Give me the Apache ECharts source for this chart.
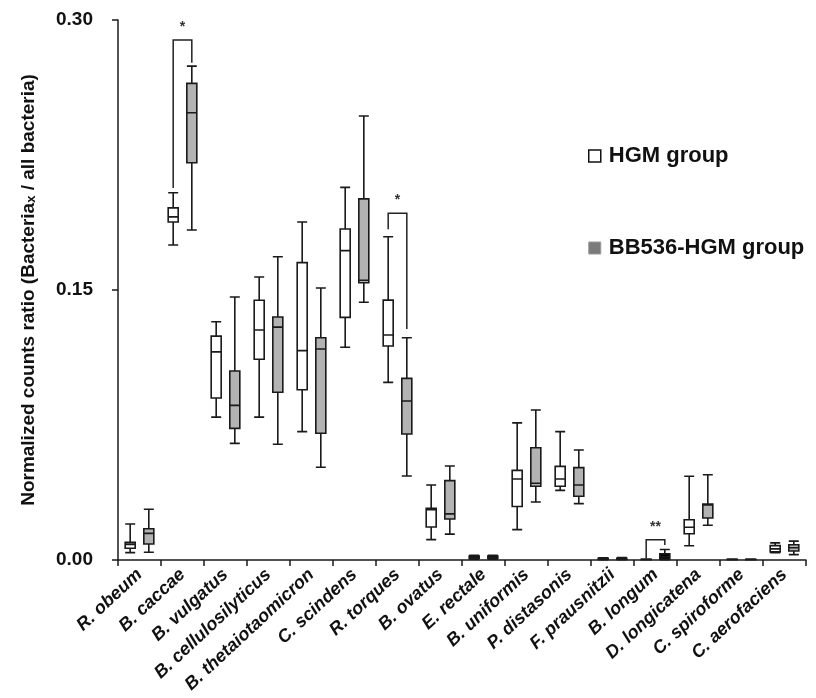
<!DOCTYPE html>
<html>
<head>
<meta charset="utf-8">
<script src="https://cdn.jsdelivr.net/npm/echarts@6/dist/echarts.min.js"></script>
<style>
  html, body { margin: 0; padding: 0; background: #fff; }
  #box-chart { width: 816px; height: 698px; }
</style>
</head>
<body>
<div id="box-chart"></div>
<script>
var categories = ['R. obeum', 'B. caccae', 'B. vulgatus', 'B. cellulosilyticus', 'B. thetaiotaomicron',
    'C. scindens', 'R. torques', 'B. ovatus', 'E. rectale', 'B. uniformis', 'P. distasonis',
    'F. prausnitzii', 'B. longum', 'D. longicatena', 'C. spiroforme', 'C. aerofaciens'];

/* [min, Q1, median, Q3, max] */
var hgmBoxes = [
    [0.0041, 0.0065, 0.0087, 0.0098, 0.0200],
    [0.1750, 0.1878, 0.1906, 0.1956, 0.2040],
    [0.0794, 0.0900, 0.1156, 0.1244, 0.1324],
    [0.0794, 0.1115, 0.1278, 0.1443, 0.1572],
    [0.0713, 0.0946, 0.1163, 0.1652, 0.1878],
    [0.1182, 0.1348, 0.1719, 0.1839, 0.2070],
    [0.0987, 0.1189, 0.1250, 0.1444, 0.1796],
    [0.0113, 0.0183, 0.0280, 0.0287, 0.0417],
    [0.0005, 0.0008, 0.0012, 0.0022, 0.0026],
    [0.0169, 0.0297, 0.0450, 0.0498, 0.0762],
    [0.0387, 0.0410, 0.0450, 0.0520, 0.0713],
    [0.0002, 0.0004, 0.0006, 0.0009, 0.0012],
    [0.0001, 0.0002, 0.0003, 0.0004, 0.0005],
    [0.0079, 0.0146, 0.0182, 0.0224, 0.0465],
    [0.0001, 0.0002, 0.0003, 0.0004, 0.0005],
    [0.0040, 0.0045, 0.0062, 0.0080, 0.0095]
];
var bbBoxes = [
    [0.0043, 0.0089, 0.0148, 0.0174, 0.0282],
    [0.1833, 0.2207, 0.2485, 0.2648, 0.2744],
    [0.0648, 0.0731, 0.0859, 0.1050, 0.1461],
    [0.0643, 0.0932, 0.1294, 0.1350, 0.1685],
    [0.0515, 0.0704, 0.1172, 0.1235, 0.1511],
    [0.1432, 0.1540, 0.1554, 0.2006, 0.2467],
    [0.0467, 0.0700, 0.0883, 0.1009, 0.1235],
    [0.0144, 0.0228, 0.0256, 0.0441, 0.0522],
    [0.0005, 0.0008, 0.0012, 0.0022, 0.0026],
    [0.0322, 0.0410, 0.0426, 0.0624, 0.0833],
    [0.0313, 0.0354, 0.0417, 0.0513, 0.0611],
    [0.0002, 0.0004, 0.0007, 0.0010, 0.0013],
    [0.0002, 0.0005, 0.0018, 0.0035, 0.0058],
    [0.0193, 0.0233, 0.0306, 0.0311, 0.0474],
    [0.0001, 0.0002, 0.0003, 0.0004, 0.0005],
    [0.0030, 0.0050, 0.0068, 0.0085, 0.0105]
];

/* significance brackets */
var bracketCats = [1, 6, 12];
var bracketLeft = [0.2067, 0.1837, 0.0009];
var bracketTop = [0.2889, 0.1926, 0.0113];
var bracketRight = [0.2763, 0.1283, 0.0083];
var bracketStars = ['*', '*', '**'];

var yTicks = [0, 0.15, 0.30];

var font = 'Liberation Sans';
var lineColor = '#1a1a1a';

function boxData(list, fill) {
    return list.map(function (b) {
        // near-zero boxes are drawn solid black in the original figure
        if (b[3] < 0.004) {
            return { value: b, itemStyle: { color: '#000' } };
        }
        return { value: b, itemStyle: { color: fill } };
    });
}

var chart = echarts.init(document.getElementById('box-chart'));

var option = {
    animation: false,
    backgroundColor: '#fff',
    grid: {
        left: 118,
        right: 10,
        top: 20,
        bottom: 138,
        containLabel: false
    },
    legend: {
        orient: 'vertical',
        left: 583,
        top: 140,
        itemWidth: 12,
        itemHeight: 12,
        itemGap: 70,
        icon: 'rect',
        selectedMode: false,
        textStyle: {
            fontFamily: font,
            fontSize: 22,
            fontWeight: 'bold',
            color: '#111',
            padding: [0, 0, 0, 3]
        },
        data: [
            { name: 'HGM group', itemStyle: { color: '#fff', borderColor: '#111', borderWidth: 1.5 } },
            { name: 'BB536-HGM group', itemStyle: { color: '#7a7a7a', borderColor: '#999', borderWidth: 1 } }
        ]
    },
    xAxis: {
        type: 'category',
        data: categories,
        boundaryGap: true,
        axisLine: { lineStyle: { color: lineColor, width: 1.5 } },
        axisTick: { show: true, interval: 0, length: 6, lineStyle: { color: lineColor, width: 1.5 } },
        axisLabel: {
            interval: 0,
            rotate: 43,
            margin: 12,
            fontFamily: font,
            fontSize: 18,
            fontStyle: 'italic',
            fontWeight: 'bold',
            color: '#111'
        },
        splitLine: { show: false }
    },
    yAxis: {
        type: 'value',
        min: yTicks[0],
        max: yTicks[yTicks.length - 1],
        interval: 0.15,
        name: '{t|Normalized counts ratio (Bacteria}{s|x}{t| / all bacteria)}',
        nameLocation: 'middle',
        nameGap: 80,
        nameTextStyle: {
            rich: {
                t: { fontFamily: font, fontSize: 19, fontWeight: 'bold', color: '#111' },
                s: { fontFamily: font, fontSize: 13, fontWeight: 'bold', color: '#111', verticalAlign: 'bottom' }
            }
        },
        axisLine: { show: true, lineStyle: { color: lineColor, width: 1.5 } },
        axisTick: { show: true, length: 6, lineStyle: { color: lineColor, width: 1.5 } },
        axisLabel: {
            margin: 25,
            fontFamily: font,
            fontSize: 19,
            fontWeight: 'bold',
            color: '#111',
            formatter: function (v) { return v.toFixed(2); }
        },
        splitLine: { show: false }
    },
    series: [
        {
            name: 'HGM group',
            type: 'boxplot',
            data: boxData(hgmBoxes, '#fff'),
            boxWidth: [10, 10],
            itemStyle: { color: '#fff', borderColor: lineColor, borderWidth: 1.6 },
            emphasis: { disabled: true }
        },
        {
            name: 'BB536-HGM group',
            type: 'boxplot',
            data: boxData(bbBoxes, '#b3b3b3'),
            boxWidth: [10, 10],
            itemStyle: { color: '#b3b3b3', borderColor: lineColor, borderWidth: 1.6 },
            emphasis: { disabled: true }
        },
        {
            name: 'brackets',
            type: 'custom',
            silent: true,
            clip: false,
            z: 5,
            encode: { x: 0, y: [1, 2, 3] },
            data: bracketCats.map(function (c, i) {
                return [c, bracketLeft[i], bracketTop[i], bracketRight[i]];
            }),
            renderItem: function (params, api) {
                /* same offsets the boxplot layout uses for two series */
                var band = api.size([1, 0])[0];
                var avail = band * 0.8 - 2;
                var gap = avail / 2 * 0.3;
                var off = (avail - gap) / 4 + gap / 2;
                var cat = api.value(0);
                var top = api.coord([cat, api.value(2)]);
                var yL = api.coord([cat, api.value(1)])[1];
                var yR = api.coord([cat, api.value(3)])[1];
                var x1 = top[0] - off;
                var x2 = top[0] + off;
                return {
                    type: 'group',
                    children: [
                        {
                            type: 'polyline',
                            shape: { points: [[x1, yL], [x1, top[1]], [x2, top[1]], [x2, yR]] },
                            style: { stroke: '#222', lineWidth: 1.5, fill: null }
                        },
                        {
                            type: 'text',
                            style: {
                                text: bracketStars[params.dataIndex],
                                x: (x1 + x2) / 2,
                                y: top[1] - 6,
                                align: 'center',
                                verticalAlign: 'bottom',
                                fill: '#333',
                                font: 'bold 14px ' + font
                            }
                        }
                    ]
                };
            }
        }
    ]
};
chart.setOption(option);

window.addEventListener('resize', function () {
    chart.resize();
});
</script>
</body>
</html>
